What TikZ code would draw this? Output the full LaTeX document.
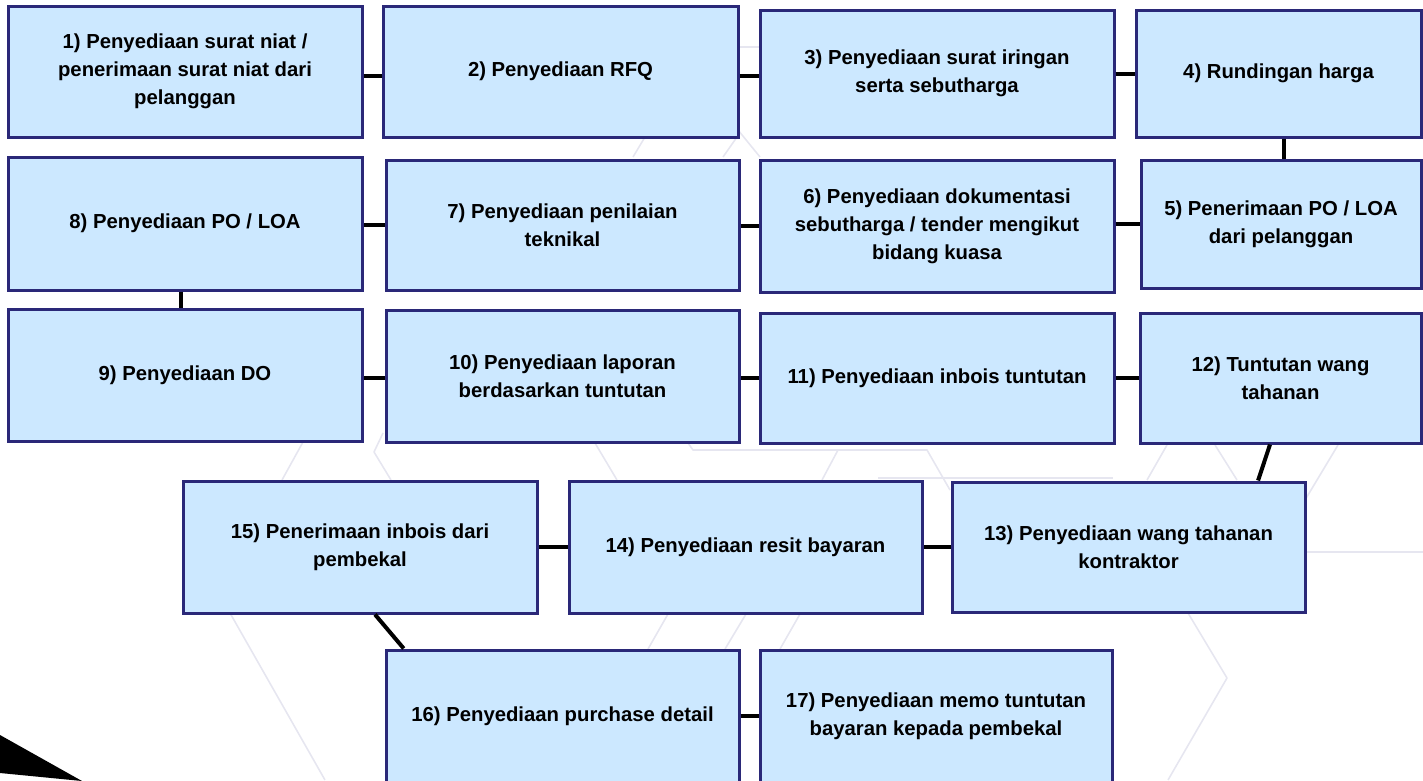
\documentclass[tikz,border=0pt]{standalone}
\usepackage{fontspec}
\setmainfont{Liberation Sans}
\usetikzlibrary{calc}
\definecolor{boxfill}{RGB}{204,232,255}
\definecolor{boxedge}{RGB}{42,40,120}
\definecolor{hexgrey}{RGB}{230,230,240}
\tikzset{
  stepbox/.style={draw=boxedge, line width=3pt, fill=boxfill, rectangle,
    inner sep=0pt, align=center, text=black,
    font=\fontsize{20.3}{28}\selectfont\bfseries},
  link/.style={draw=black, line width=4pt},
  hexline/.style={draw=hexgrey, line width=1.6pt, line join=round}
}
% box: name, left, top, right, bottom, label
\newcommand\procbox[6]{%
  \node[stepbox, minimum width={#4-#2}, minimum height={#5-#3}]
    (#1) at ({(#2+#4)/2},{(#3+#5)/2}) {#6};}
\begin{document}
\begin{tikzpicture}[x=1pt,y=-1pt]
\useasboundingbox (0,0) rectangle (1423,780);
\clip (0,0) rectangle (1423,780);

% faint hexagon pattern behind the chart
\draw[hexline] (303,442) -- (282,480);
\draw[hexline] (383,433) -- (374,452) -- (391,480);
\draw[hexline] (595,443) -- (617,480);
\draw[hexline] (688,443) -- (693,450) -- (927,450) -- (950,490);
\draw[hexline] (838,450) -- (822,480);
\draw[hexline] (878,478) -- (1113,478);
\draw[hexline] (1167,445) -- (1147,480);
\draw[hexline] (1215,445) -- (1237,480);
\draw[hexline] (1338,445) -- (1305,500);
\draw[hexline] (1305,552) -- (1423,552);
\draw[hexline] (1188,613) -- (1227,678) -- (1168,780);
\draw[hexline] (668,614) -- (648,649);
\draw[hexline] (746,614) -- (725,649);
\draw[hexline] (800,614) -- (780,649);
\draw[hexline] (230,613) -- (325,780);
\draw[hexline] (633,157) -- (645,137);
\draw[hexline] (723,157) -- (737,137);
\draw[hexline] (738,130) -- (760,157);
\draw[hexline] (737,47) -- (760,47);

% black wedge in the lower left corner
\fill[black] (0,735) -- (82,781) -- (0,773) -- cycle;

% process steps
\procbox{b1}{8}{6}{362}{137}{1) Penyediaan surat niat /\\penerimaan surat niat dari\\pelanggan}
\procbox{b2}{383}{6}{738}{137}{2) Penyediaan RFQ}
\procbox{b3}{760}{10}{1114}{137}{3) Penyediaan surat iringan\\serta sebutharga}
\procbox{b4}{1136}{10}{1421}{137}{4) Rundingan harga}
\procbox{b8}{8}{157}{362}{290}{8) Penyediaan PO / LOA}
\procbox{b7}{386}{160}{739}{290}{7) Penyediaan penilaian\\teknikal}
\procbox{b6}{760}{160}{1114}{292}{6) Penyediaan dokumentasi\\sebutharga / tender mengikut\\bidang kuasa}
\procbox{b5}{1141}{160}{1421}{288}{5) Penerimaan PO / LOA\\dari pelanggan}
\procbox{b9}{8}{309}{362}{441}{9) Penyediaan DO}
\procbox{b10}{386}{310}{739}{442}{10) Penyediaan laporan\\berdasarkan tuntutan}
\procbox{b11}{760}{313}{1114}{443}{11) Penyediaan inbois tuntutan}
\procbox{b12}{1140}{313}{1421}{443}{12) Tuntutan wang\\tahanan}
\procbox{b15}{183}{481}{537}{613}{15) Penerimaan inbois dari\\pembekal}
\procbox{b14}{569}{481}{922}{613}{14) Penyediaan resit bayaran}
\procbox{b13}{952}{482}{1305}{612}{13) Penyediaan wang tahanan\\kontraktor}
\procbox{b16}{386}{650}{739}{782}{16) Penyediaan purchase detail}
\procbox{b17}{760}{650}{1112}{782}{17) Penyediaan memo tuntutan\\bayaran kepada pembekal}

% connectors, row by row
\draw[link] ([yshift=-4pt]b1.east) -- ([yshift=-4pt]b1.east -| b2.west);
\draw[link] ([yshift=-4pt]b2.east) -- ([yshift=-4pt]b2.east -| b3.west);
\draw[link] (b3.east) -- (b3.east -| b4.west);
\coordinate (d45) at ($(b4.south west)!0.52!(b4.south east)$);
\draw[link] (d45) -- (d45 |- b5.north);
\draw[link] (b5.west) -- (b5.west -| b6.east);
\draw[link] (b6.west) -- (b6.west -| b7.east);
\draw[link] (b7.west) -- (b7.west -| b8.east);
\coordinate (d89) at ($(b8.south west)!0.489!(b8.south east)$);
\draw[link] (d89) -- (d89 |- b9.north);
\draw[link] (b10.west |- b11.center) -- (b9.east |- b11.center);
\draw[link] (b11.west) -- (b11.west -| b10.east);
\draw[link] (b11.east) -- (b11.east -| b12.west);
\draw[link] ($(b12.south west)!0.463!(b12.south east)$) -- ($(b13.north west)!0.864!(b13.north east)$);
\draw[link] (b13.west) -- (b13.west -| b14.east);
\draw[link] (b14.west) -- (b14.west -| b15.east);
\draw[link] ($(b15.south west)!0.542!(b15.south east)$) -- ($(b16.north west)!0.054!(b16.north east)$);
\draw[link] (b16.east) -- (b16.east -| b17.west);
\end{tikzpicture}
\end{document}
